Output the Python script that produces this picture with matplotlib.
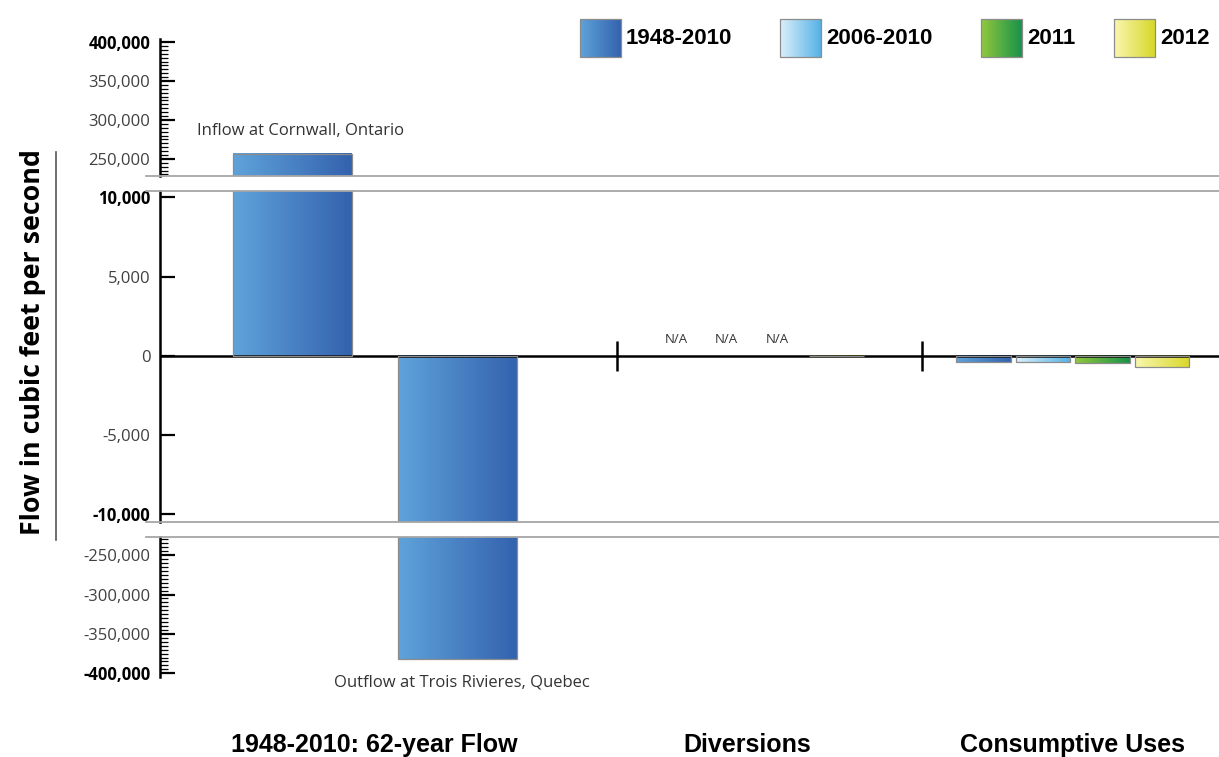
import numpy as np
import matplotlib

matplotlib.use("Agg")
import matplotlib.pyplot as plt
from matplotlib.colors import LinearSegmentedColormap
from matplotlib.lines import Line2D
from matplotlib.patches import Rectangle
from matplotlib.ticker import MultipleLocator
from matplotlib.transforms import blended_transform_factory

# ---- data ---------------------------------------------------------------
series = ["1948-2010", "2006-2010", "2011", "2012"]
series_colors = {
    "1948-2010": ("#5fa3da", "#3462ae"),
    "2006-2010": ("#dcf0fb", "#55b2e6"),
    "2011": ("#93c83e", "#17924a"),
    "2012": ("#f9f6b0", "#d8d829"),
}
groups = ["1948-2010: 62-year Flow", "Diversions", "Consumptive Uses"]
flow_labels = ["Inflow at Cornwall, Ontario", "Outflow at Trois Rivieres, Quebec"]
flow_values = [256500, -382000]
diversion_values = [np.nan, np.nan, np.nan, -30]
consumptive_values = [-400, -390, -480, -720]

top_ticks = [250000, 300000, 350000, 400000]
mid_ticks = [-10000, -5000, 0, 5000, 10000]
bot_ticks = [-400000, -350000, -300000, -250000]
bold_ticks = [400000, 10000, -10000, -400000]

# ---- layout -------------------------------------------------------------
W, H = 1219, 757
LEFT = 160
GRAY = "#a6a6a6"
TICK_FONT = ["Open Sans", "DejaVu Sans"]
LABEL_FONT = ["Liberation Sans", "DejaVu Sans"]

group_centers = [3.61, 9.87, 15.34]
flow_offsets = [-1.39, 1.39]
flow_width = 2.0
slot_offsets = [-1.5, -0.5, 0.5, 1.5]
na_offsets = [-1.2, -0.36, 0.5]  # the N/A notes sit a bit tighter than the bar slots
slot_width = 0.91
separators = [7.68, 12.8]


def cmap_for(name):
    return LinearSegmentedColormap.from_list(name, series_colors[name])


def gradient_bar(ax, x, h, w, name):
    ax.bar(x, h, w, facecolor="none", edgecolor="#8c8c8c", linewidth=0.9, zorder=3)
    lo, hi = ax.get_ylim()
    y0 = max(min(0, h), lo)
    y1 = min(max(0, h), hi)
    if y1 <= y0:
        return
    ax.imshow(
        np.linspace(0, 1, 256)[None, :],
        cmap=cmap_for(name),
        aspect="auto",
        extent=[x - w / 2, x + w / 2, y0, y1],
        zorder=2,
        interpolation="bicubic",
    )


def axes_rect(y0, y1):
    return [LEFT / W, 1 - y1 / H, 1 - LEFT / W, (y1 - y0) / H]


fig = plt.figure(figsize=(W / 100, H / 100), dpi=100)
ax_top = fig.add_axes(axes_rect(39, 176))
ax_mid = fig.add_axes(axes_rect(191, 522))
ax_bot = fig.add_axes(axes_rect(537, 677))
panels = [
    (ax_top, (228000, 404000), top_ticks, 5000),
    (ax_mid, (-10500, 10400), mid_ticks, None),
    (ax_bot, (-404700, -227000), bot_ticks, 5000),
]

flow_x = [group_centers[0] + o for o in flow_offsets]
div_x = [group_centers[1] + o for o in slot_offsets]
con_x = [group_centers[2] + o for o in slot_offsets]
xmax = (W - LEFT) / 59.5

for ax, ylim, ticks, minor in panels:
    ax.set_xlim(0, xmax)
    ax.set_ylim(*ylim)
    for x, v in zip(flow_x, flow_values):
        gradient_bar(ax, x, v, flow_width, series[0])
    for x, v, name in zip(div_x, diversion_values, series):
        if not np.isnan(v):
            gradient_bar(ax, x, v, slot_width, name)
    for x, v, name in zip(con_x, consumptive_values, series):
        gradient_bar(ax, x, v, slot_width, name)

    ax.set_xlim(0, xmax)
    ax.set_ylim(*ylim)
    ax.set_xticks([])
    ax.set_yticks(ticks, [f"{t:,}" for t in ticks])
    for t, lab in zip(ticks, ax.get_yticklabels()):
        lab.set_family(TICK_FONT)
        lab.set_fontsize(12)
        if t in bold_ticks:
            lab.set_fontweight("bold")
            lab.set_color("black")
        else:
            lab.set_color("#404040")
    ax.tick_params(axis="y", direction="in", length=11, width=1.6, pad=7, color="black")
    if minor:
        ax.yaxis.set_minor_locator(MultipleLocator(minor))
        ax.tick_params(axis="y", which="minor", direction="in", length=6, width=0.9)
    for side in ["top", "bottom", "right"]:
        ax.spines[side].set_visible(False)
    ax.spines["left"].set_linewidth(1.8)
    ax.patch.set_alpha(0)

# break lines of the axis
brk = -(LEFT - 146) / (W - LEFT)
for ax, ys in [(ax_top, [0]), (ax_mid, [0, 1]), (ax_bot, [1])]:
    for y in ys:
        ax.plot([brk, 1], [y, y], transform=ax.transAxes, color=GRAY, lw=1.3, clip_on=False, zorder=5)

ax_mid.axhline(0, color="black", lw=1.8, zorder=2.5)
ax_mid.vlines(separators, -950, 950, color="black", lw=1.8, zorder=4)

# annotations
ax_top.annotate(flow_labels[0], xy=(flow_x[0], flow_values[0]), xytext=(6, 11),
                textcoords="offset points", ha="center", va="bottom",
                fontsize=12, family=TICK_FONT, color="#333333")
ax_bot.annotate(flow_labels[1], xy=(flow_x[1], flow_values[1]), xytext=(3, -11),
                textcoords="offset points", ha="center", va="top", annotation_clip=False,
                fontsize=12, family=TICK_FONT, color="#333333")
for off, v in zip(na_offsets, diversion_values):
    if np.isnan(v):
        ax_mid.annotate("N/A", xy=(group_centers[1] + off, 0), xytext=(0, 12), textcoords="offset points",
                        ha="center", va="center", fontsize=9.5, family=TICK_FONT, color="#333333")

# group labels below the chart
trans = blended_transform_factory(ax_bot.transData, fig.transFigure)
for x, name in zip(group_centers, groups):
    fig.text(x, 1 - 752 / H, name, transform=trans, ha="center", va="baseline",
             fontsize=18, fontweight="bold", family=LABEL_FONT, color="black")

# y label with its rule
fig.text(33 / W, 1 - 342 / H, "Flow in cubic feet per second", rotation=90,
         ha="center", va="center", fontsize=19.3, fontweight="bold", family=TICK_FONT)
fig.add_artist(Line2D([56 / W, 56 / W], [1 - 152 / H, 1 - 540 / H], color="#555555", lw=1.2))

# legend
leg = fig.add_axes([0, 0, 1, 1], zorder=6)
leg.set_xlim(0, W)
leg.set_ylim(H, 0)
leg.axis("off")
for left, name in zip([580, 780, 981, 1114], series):
    leg.imshow(np.linspace(0, 1, 256)[None, :], cmap=cmap_for(name), aspect="auto",
               extent=[left, left + 41, 57, 19], zorder=2, interpolation="bicubic")
    leg.add_patch(Rectangle((left, 19), 41, 38, facecolor="none", edgecolor="#8c8c8c", lw=0.9, zorder=3))
    leg.text(left + 46, 38, name, ha="left", va="center", fontsize=16,
             fontweight="bold", family=LABEL_FONT)
leg.set_xlim(0, W)
leg.set_ylim(H, 0)

fig.savefig("out.png", dpi=100, facecolor="white")
